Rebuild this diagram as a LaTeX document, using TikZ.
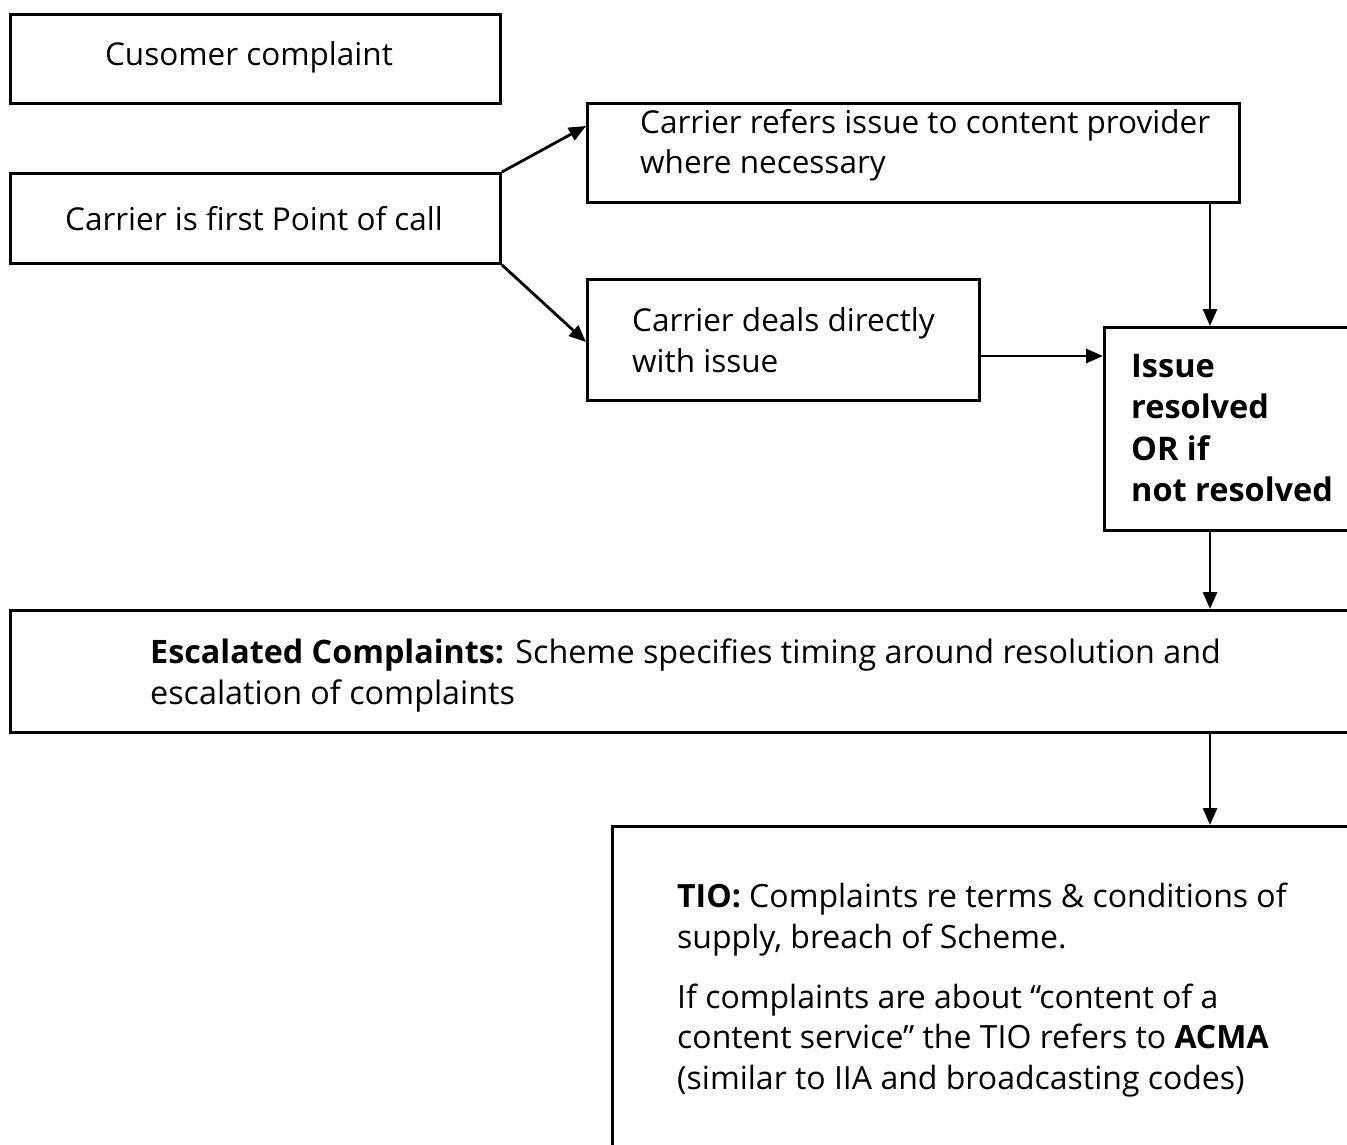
\documentclass[tikz,border=0pt]{standalone}
\usepackage{fontspec}
\setmainfont{Open Sans}
\usetikzlibrary{arrows.meta}
\tikzset{
  box/.style={draw=black, line width=2.9pt, fill=white, inner sep=0pt, anchor=north west},
  txt/.style={inner sep=0pt, align=left, font=\fontsize{31.5}{40.5}\selectfont},
  arr/.style={draw=black, line width=2.8pt, -{Triangle[length=17pt,width=14pt]}}
}
\begin{document}
\begin{tikzpicture}[x=1pt,y=-1pt]
\useasboundingbox (0,0) rectangle (1347,1144);
\fill[white] (0,0) rectangle (1347,1144);
\clip (0,0) rectangle (1347,1144);

\node[box, minimum width=490pt, minimum height=89pt] (b1) at (9,13) {};
\node[box, minimum width=490pt, minimum height=90pt] (b2) at (9,172) {};
\node[box, minimum width=652pt, minimum height=99pt] (b3) at (586,102) {};
\node[box, minimum width=392pt, minimum height=121pt] (b4) at (586,278) {};
\node[box, minimum width=320pt, minimum height=203pt] (b5) at (1103,326) {};
\node[box, minimum width=1420pt, minimum height=122pt] (b6) at (9,609) {};
\node[box, minimum width=800pt, minimum height=400pt] (b7) at (611,825) {};

\node[txt, anchor=center] (t1) at (249,57) {Cusomer complaint};
\node[txt, anchor=center] (t2) at (254,219) {Carrier is first Point of call};
\node[txt, anchor=west] (t3) at (640,145) {Carrier refers issue to content provider\\where necessary};
\node[txt, anchor=west] (t4) at (632,340) {Carrier deals directly\\with issue};
\node[txt, anchor=west, font=\fontsize{32.5}{41.5}\selectfont\bfseries] (t5) at (1131,428) {Issue\\resolved\\OR if\\not resolved};
\node[txt, anchor=west, font=\fontsize{32.3}{41}\selectfont] (t6) at (150,676) {\textbf{Escalated Complaints:} Scheme specifies timing around resolution and\\escalation of complaints};
\node[txt, anchor=west, font=\fontsize{32}{40.5}\selectfont] (t7) at (677,990) {\textbf{TIO:} Complaints re terms \& conditions of\\supply, breach of Scheme.\\[19.5pt]If complaints are about “content of a\\content service” the TIO refers to \textbf{ACMA}\\(similar to IIA and broadcasting codes)};

\draw[arr] (b2.north east) -- (b3.west |- 0,126);
\draw[arr] (b2.south east) -- (b4.west |- 0,342);
\draw[arr] (b3.south -| 1210,0) -- (b5.north -| 1210,0);
\draw[arr] (b4.east |- 0,356) -- (b5.west |- 0,356);
\draw[arr] (b5.south -| 1210,0) -- (b6.north -| 1210,0);
\draw[arr] (b6.south -| 1210,0) -- (b7.north -| 1210,0);
\end{tikzpicture}
\end{document}
